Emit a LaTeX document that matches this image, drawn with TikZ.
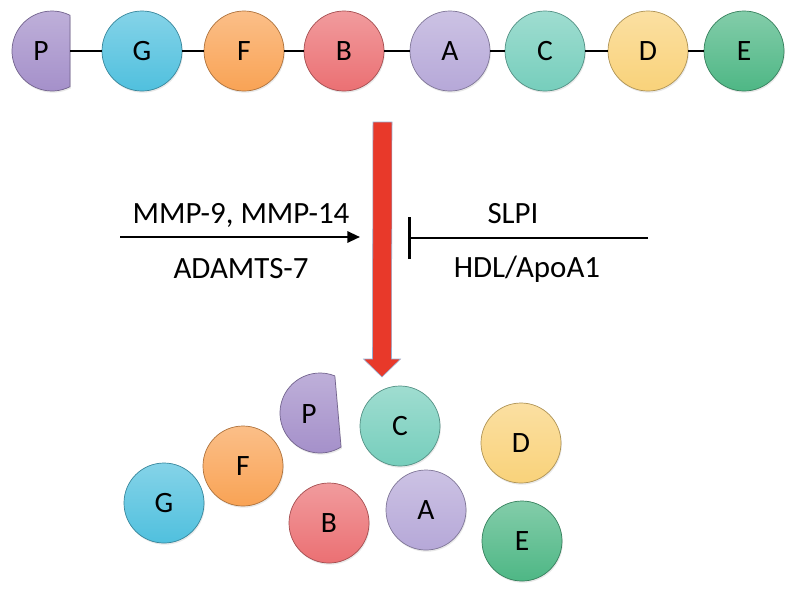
\documentclass[tikz,border=0pt]{standalone}
\usepackage{fontspec}
\setmainfont{Carlito}
\usepackage{tikz}
\usetikzlibrary{arrows.meta, calc, shadows}
\usepackage{xcolor}

\definecolor{cP}{RGB}{163,142,201}
\definecolor{cG}{RGB}{80,192,222}
\definecolor{cF}{RGB}{249,163,85}
\definecolor{cB}{RGB}{235,112,115}
\definecolor{cA}{RGB}{182,168,216}
\definecolor{cC}{RGB}{118,206,188}
\definecolor{cD}{RGB}{249,210,122}
\definecolor{cE}{RGB}{78,183,133}
\definecolor{cutred}{RGB}{232,57,42}

\begin{document}
\begin{tikzpicture}[
  x=0.025cm, y=-0.025cm,
  ball/.style={circle, minimum size=2cm, inner sep=0pt, draw=#1!70!black, line width=0.5pt,
    top color=#1!70!white, bottom color=#1, font=\fontsize{21}{25}\selectfont,
    drop shadow={opacity=0.18, shadow xshift=0.6pt, shadow yshift=-1.2pt}},
  pbox/.style={rectangle, minimum width=1.45cm, minimum height=2cm, inner sep=0pt, font=\fontsize{21}{25}\selectfont},
  link/.style={line width=1.5pt},
  lbl/.style={font=\fontsize{22}{26}\selectfont, inner sep=0pt},
  act/.style={-{Triangle[length=9pt, width=8pt]}, line width=1.6pt},
  inh/.style={-{Bar[width=1.05cm, line width=2.2pt]}, line width=1.6pt},
  cut/.style={fill=cutred, draw={rgb,255:red,150;green,175;blue,210}, line width=0.4pt}
]
\useasboundingbox (0,0) rectangle (800,600);

% the P domain, whole chain and cleaved
\foreach \cx/\cy/\rot/\nm in {52/51/0/P1, 320/413/5/P2} {
  \begin{scope}[shift={(\cx,\cy)}, rotate=\rot]
    \shade[top color=cP!70!white, bottom color=cP, draw=cP!70!black, line width=0.5pt,
      drop shadow={opacity=0.18, shadow xshift=0.6pt, shadow yshift=-1.2pt}]
      (18,35.7) arc[start angle=63.26, end angle=296.74, radius=40] -- cycle;
    \node[pbox] (\nm) at (-11,0) {P};
  \end{scope}
}

% intact chain
\foreach \n/\x in {G/142, F/244, B/344, A/450, C/545, D/648, E/744}
  \node[ball=c\n] (\n1) at (\x,51) {\n};

\foreach \a/\b in {P1/G1, G1/F1, F1/B1, B1/A1, A1/C1, C1/D1, D1/E1}
  \draw[link] (\a) -- (\b);

% cleavage
\coordinate (cuttop) at (382.5,122);
\coordinate (cuttip) at (382,377);
\filldraw[cut] ($(cuttop)+(-9.5,0)$) -- ($(cuttop)+(9.5,0)$) -- ($(cuttip)+(9.5,-18)$)
  -- ($(cuttip)+(18.5,-18)$) -- (cuttip) -- ($(cuttip)+(-18.5,-18)$)
  -- ($(cuttip)+(-9.5,-18)$) -- cycle;

% proteases
\coordinate (actL) at (120,237);
\coordinate (actR) at (360,237);
\draw[act] (actL) -- (actR);
\node[lbl, anchor=base] (mmp) at (241,223) {MMP-9, MMP-14};
\node[lbl, anchor=base] (adam) at (241,278) {ADAMTS-7};

% inhibitors
\coordinate (inhR) at (648,238);
\coordinate (inhL) at (408,238);
\draw[inh] (inhR) -- (inhL);
\node[lbl, anchor=base] (slpi) at (513,223) {SLPI};
\node[lbl, anchor=base] (hdl) at (527,277) {HDL/ApoA1};

% fragments
\node[ball=cG] (G2) at (164,503) {G};
\node[ball=cF] (F2) at (243,466) {F};
\node[ball=cB] (B2) at (329,523) {B};
\node[ball=cC] (C2) at (400,426) {C};
\node[ball=cA] (A2) at (426,510) {A};
\node[ball=cD] (D2) at (521,443) {D};
\node[ball=cE] (E2) at (522,541) {E};

\end{tikzpicture}
\end{document}
